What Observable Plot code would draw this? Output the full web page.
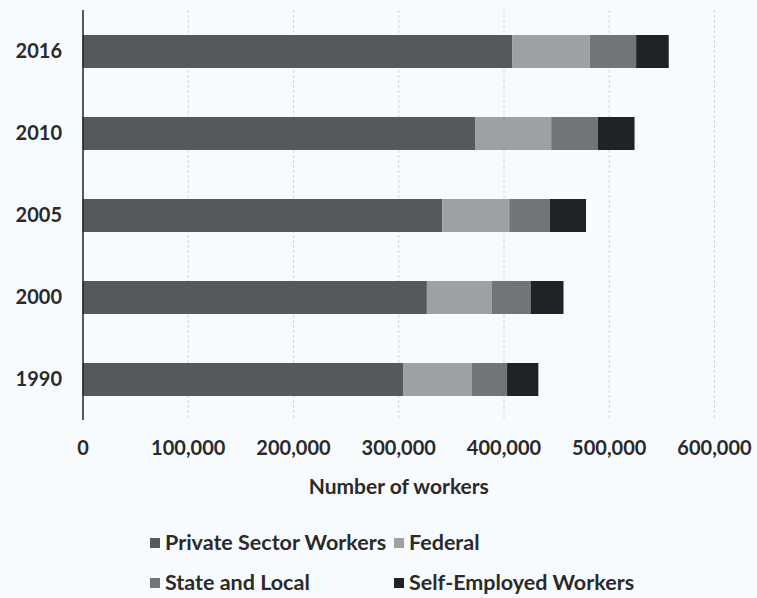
<!DOCTYPE html>
<html>
<head>
<meta charset="utf-8">
<script src="https://cdn.jsdelivr.net/npm/d3@7"></script>
<script src="https://cdn.jsdelivr.net/npm/@observablehq/plot@0.6"></script>
<style>
  html, body { margin: 0; padding: 0; background: #f8fbfd; }
  body { width: 757px; height: 598px; overflow: hidden; font-family: Lato, "Open Sans", sans-serif; font-weight: bold; color: #2a2a2a; }
  #legend { position: absolute; left: 0; top: 0; width: 757px; }
  .item { position: absolute; font-size: 21.5px; white-space: nowrap; line-height: 1; }
  .sw { display: inline-block; width: 10px; height: 10px; margin-right: 5px; vertical-align: 2px; }
</style>
</head>
<body>
<div id="chart"></div>
<div id="legend"></div>
<script>
const years = ["2016", "2010", "2005", "2000", "1990"];
const categories = ["Private Sector Workers", "Federal", "State and Local", "Self-Employed Workers"];
const privateSector = [408500, 373400, 341700, 327200, 304500];
const federal = [73500, 71900, 63800, 61400, 65600];
const stateLocal = [44000, 44200, 38700, 37100, 33300];
const selfEmployed = [31000, 35000, 34200, 31300, 29700];
const xTicks = [0, 100000, 200000, 300000, 400000, 500000, 600000];
const colors = ["#56595c", "#9da1a4", "#727578", "#1f2326"];
const axisTitle = "Number of workers";

const series = [privateSector, federal, stateLocal, selfEmployed];
const rows = [];
years.forEach((y, i) => categories.forEach((c, j) => rows.push({year: y, category: c, value: series[j][i]})));

const chart = Plot.plot({
  width: 757,
  height: 505,
  marginLeft: 82.5,
  marginRight: 43,
  marginTop: 10,
  marginBottom: 85,
  style: {background: "transparent", fontFamily: "Lato, 'Open Sans', sans-serif", fontWeight: "bold", fontSize: "20px", color: "#2a2a2a"},
  x: {domain: [0, 600000], ticks: xTicks, tickFormat: d3.format(","), label: null},
  y: {domain: years, paddingInner: 0.6, paddingOuter: 0.3, label: null},
  color: {domain: categories, range: colors},
  marks: [
    Plot.gridX(xTicks.slice(1), {stroke: "#aeb3b8", strokeOpacity: 0.5, strokeDasharray: "3,2"}),
    Plot.axisX({ticks: xTicks, tickFormat: d3.format(","), tickSize: 0, tickPadding: 20, label: null, fontSize: 20}),
    Plot.axisY({tickSize: 0, tickPadding: 21, label: null, fontSize: 20}),
    Plot.barX(rows, Plot.stackX({x: "value", y: "year", fill: "category", order: categories})),
    Plot.ruleX([0], {stroke: "#222", strokeWidth: 1.5}),
    Plot.text([axisTitle], {frameAnchor: "bottom", dy: 73, fontSize: 21, fontWeight: "bold", fill: "#2a2a2a"})
  ]
});
document.getElementById("chart").appendChild(chart);

const legendPos = [[150, 532], [394, 532], [150, 572], [394, 572]];
const legend = document.getElementById("legend");
categories.forEach((c, i) => {
  const d = document.createElement("div");
  d.className = "item";
  d.style.left = legendPos[i][0] + "px";
  d.style.top = legendPos[i][1] + "px";
  d.innerHTML = `<span class="sw" style="background:${colors[i]}"></span>${c}`;
  legend.appendChild(d);
});
</script>
</body>
</html>
